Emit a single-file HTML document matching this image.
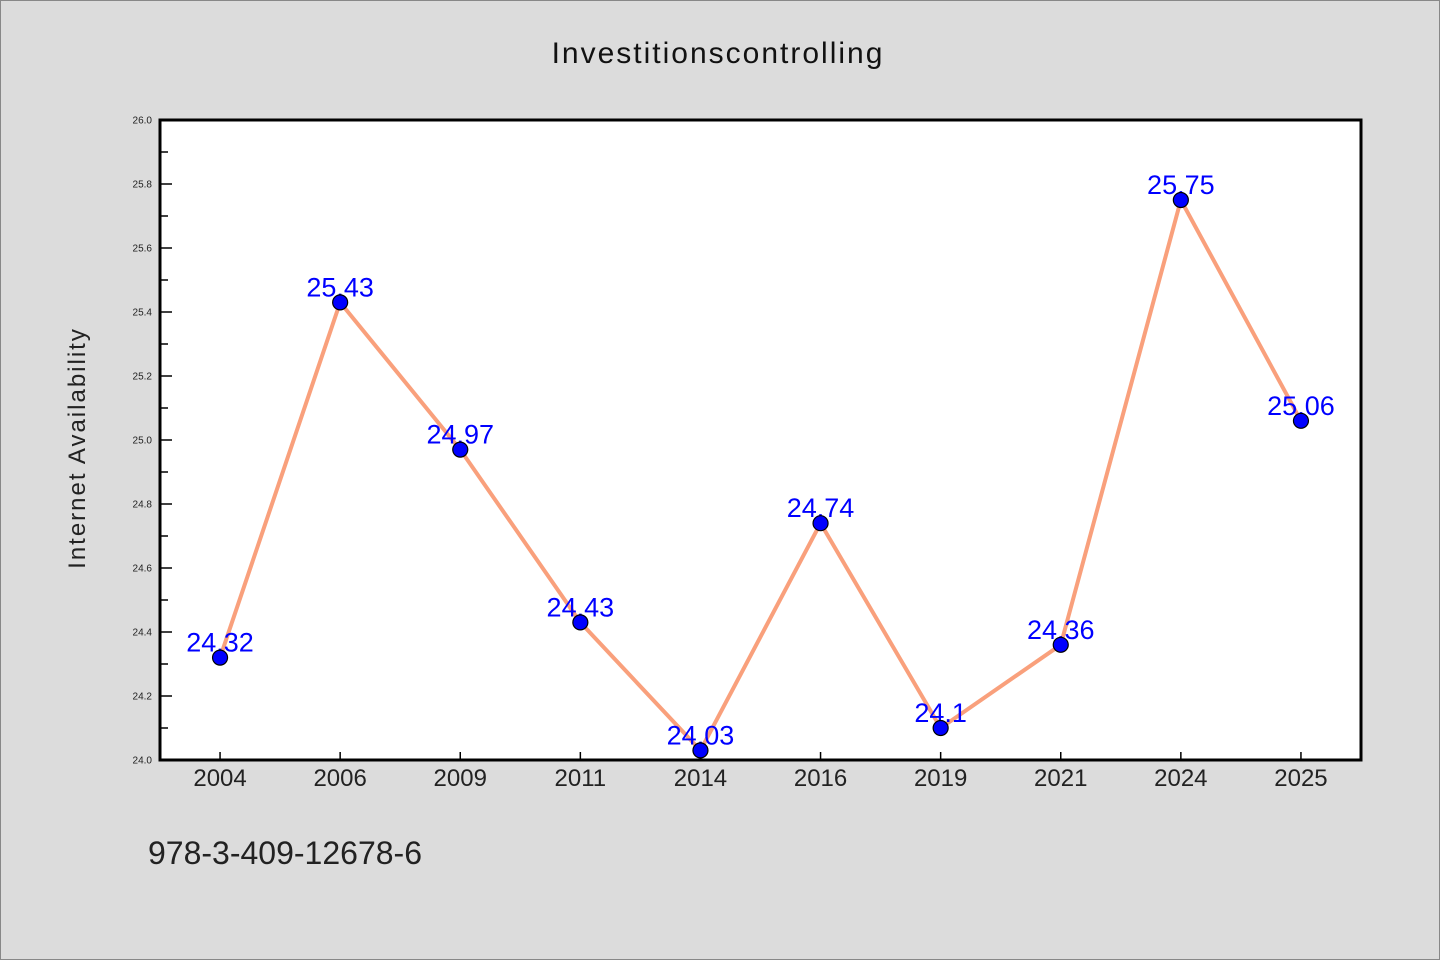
<!DOCTYPE html>
<html><head><meta charset="utf-8"><style>
html,body{margin:0;padding:0;background:#dcdcdc;}
svg{display:block;font-family:"WenQuanYi Zen Hei","Liberation Sans",sans-serif;}
</style></head><body>
<svg id="chart" width="1440" height="960" xmlns="http://www.w3.org/2000/svg">
<rect x="0.5" y="0.5" width="1439" height="959" fill="#dcdcdc" stroke="#888"/>
<text x="718" y="63" text-anchor="middle" font-size="30" letter-spacing="2" fill="#111">Investitionscontrolling</text>
<rect x="160" y="120" width="1201" height="640" fill="#fff"/>
<g id="axes"></g>
<g id="marks"></g>
<rect x="160" y="120" width="1201" height="640" fill="none" stroke="#000" stroke-width="3"/>
<text transform="translate(85,448) rotate(-90)" text-anchor="middle" font-size="24" letter-spacing="2" fill="#222">Internet Availability</text>
<text x="148" y="864" font-size="32" fill="#222">978-3-409-12678-6</text>
</svg>
<script>
const categories=["2004","2006","2009","2011","2014","2016","2019","2021","2024","2025"];
const values=[24.32,25.43,24.97,24.43,24.03,24.74,24.1,24.36,25.75,25.06];
const valueLabels=["24.32","25.43","24.97","24.43","24.03","24.74","24.1","24.36","25.75","25.06"];
const yTicks=[24.0,24.2,24.4,24.6,24.8,25.0,25.2,25.4,25.6,25.8,26.0];
const ns="http://www.w3.org/2000/svg";
const L=160,R=1361,T=120,B=760,yMin=24,yMax=26;
const band=(R-L)/categories.length;
const xs=i=>L+band*(i+0.5);
const ys=v=>B-(v-yMin)/(yMax-yMin)*(B-T);
function mk(tag,attrs,parent){const e=document.createElementNS(ns,tag);for(const k in attrs)e.setAttribute(k,attrs[k]);parent.appendChild(e);return e;}
const axes=document.getElementById('axes'),marks=document.getElementById('marks');
yTicks.forEach((t,i)=>{
 const y=ys(t);
 const tk=mk('line',{x1:L,x2:L+12,y1:y,y2:y,stroke:'#000','stroke-width':1.5},axes);
 
 
 const lb=mk('text',{x:L-8,y:y+3.5,'text-anchor':'end','font-size':10,fill:'#222'},axes);
 lb.textContent=t.toFixed(1);
 
 
 if(i<yTicks.length-1){
  const ym=ys(t+0.1);
  const mt=mk('line',{x1:L,x2:L+8,y1:ym,y2:ym,stroke:'#000','stroke-width':1.5},axes);
  
  
 }
});
categories.forEach((c,i)=>{
 const x=xs(i);
 const tk=mk('line',{x1:x,x2:x,y1:B,y2:B-8,stroke:'#000','stroke-width':1.5},axes);
 
 
 const lb=mk('text',{x:x,y:786,'text-anchor':'middle','font-size':24,fill:'#222'},axes);
 lb.textContent=c;
 
 
});
const pts=values.map((v,i)=>xs(i)+','+ys(v)).join(' ');
const line=mk('polyline',{points:pts,fill:'none',stroke:'#f9a07c','stroke-width':4,'stroke-linejoin':'round'},marks);


values.forEach((v,i)=>{
 const lb=mk('text',{x:xs(i),y:ys(v)-6,'text-anchor':'middle','font-size':27,fill:'#0000ff'},marks);
 lb.textContent=valueLabels[i];
 
 
});
values.forEach((v,i)=>{
 const p=mk('circle',{cx:xs(i),cy:ys(v),r:7.5,fill:'#0000ff',stroke:'#000','stroke-width':1.2},marks);
 
 
});
</script>
</body></html>
